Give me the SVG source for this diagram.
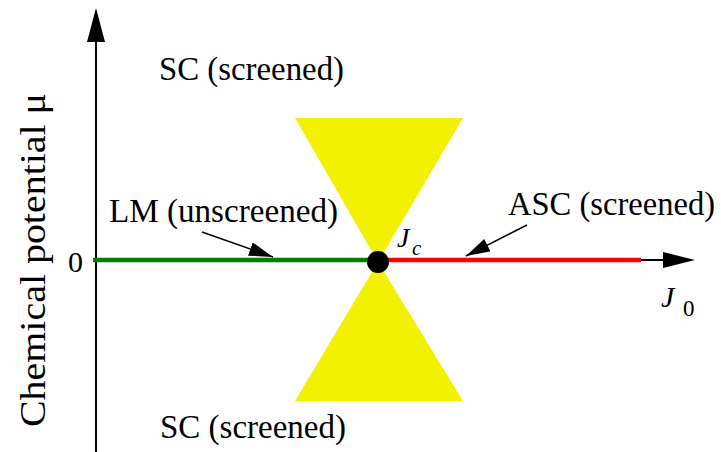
<svg xmlns="http://www.w3.org/2000/svg" width="721" height="452" viewBox="0 0 721 452">
<style>
text{font-family:"Liberation Serif","DejaVu Serif","Times New Roman",serif;fill:#000}
.it{font-style:italic}
.lbl{font-size:33px}
.ax{stroke:#000;stroke-width:2;fill:none}
.ptr{stroke:#000;stroke-width:1.5;fill:none}
.cone{fill:#f2f200}
</style>
<defs>
<marker id="ah" markerUnits="userSpaceOnUse" markerWidth="26" markerHeight="16" refX="24" refY="7" orient="auto">
<path d="M0,0 L24,7 L0,14 Z" fill="#000"/>
</marker>
</defs>
<g id="cone-top"><polygon class="cone" points="295,118 463,118 378,262"/></g>
<g id="cone-bottom"><polygon class="cone" points="295,401 463,401 378,262"/></g>
<g id="axes">
<line class="ax" x1="96" y1="452" x2="96" y2="40"/>
<polygon points="96,8 87,42 105,42" fill="#000"/>
<line class="ax" x1="630" y1="260" x2="665" y2="260"/>
<polygon points="695,260 663,252 663,268" fill="#000"/>
</g>
<g id="lm-line"><line x1="93" y1="260" x2="378" y2="260" stroke="#008000" stroke-width="4.5"/></g>
<g id="asc-line"><line x1="378" y1="260" x2="641" y2="260" stroke="#ff0000" stroke-width="4.5"/></g>
<g id="critical-point"><circle cx="378" cy="262" r="11" fill="#000"/></g>
<g id="connectors">
<line class="ptr" x1="202" y1="232" x2="273" y2="257" marker-end="url(#ah)"/>
<line class="ptr" x1="527" y1="225" x2="466" y2="256" marker-end="url(#ah)"/>
</g>
<g id="labels">
<text class="lbl" x="159" y="80" textLength="185" lengthAdjust="spacingAndGlyphs">SC (screened)</text>
<text class="lbl" x="160" y="438" textLength="186" lengthAdjust="spacingAndGlyphs">SC (screened)</text>
<text class="lbl" x="109" y="222" textLength="229" lengthAdjust="spacingAndGlyphs">LM (unscreened)</text>
<text class="lbl" x="508" y="215" textLength="207" lengthAdjust="spacingAndGlyphs">ASC (screened)</text>
<text x="68" y="272" font-size="30">0</text>
<text class="it" x="397" y="247" font-size="28">J</text>
<text class="it" x="412" y="255" font-size="21">c</text>
<text class="it" x="661" y="307" font-size="30">J</text>
<text x="683" y="316" font-size="23">0</text>
<text transform="translate(45,427) rotate(-90)" font-size="36" textLength="334" lengthAdjust="spacingAndGlyphs">Chemical potential μ</text>
</g>
</svg>
